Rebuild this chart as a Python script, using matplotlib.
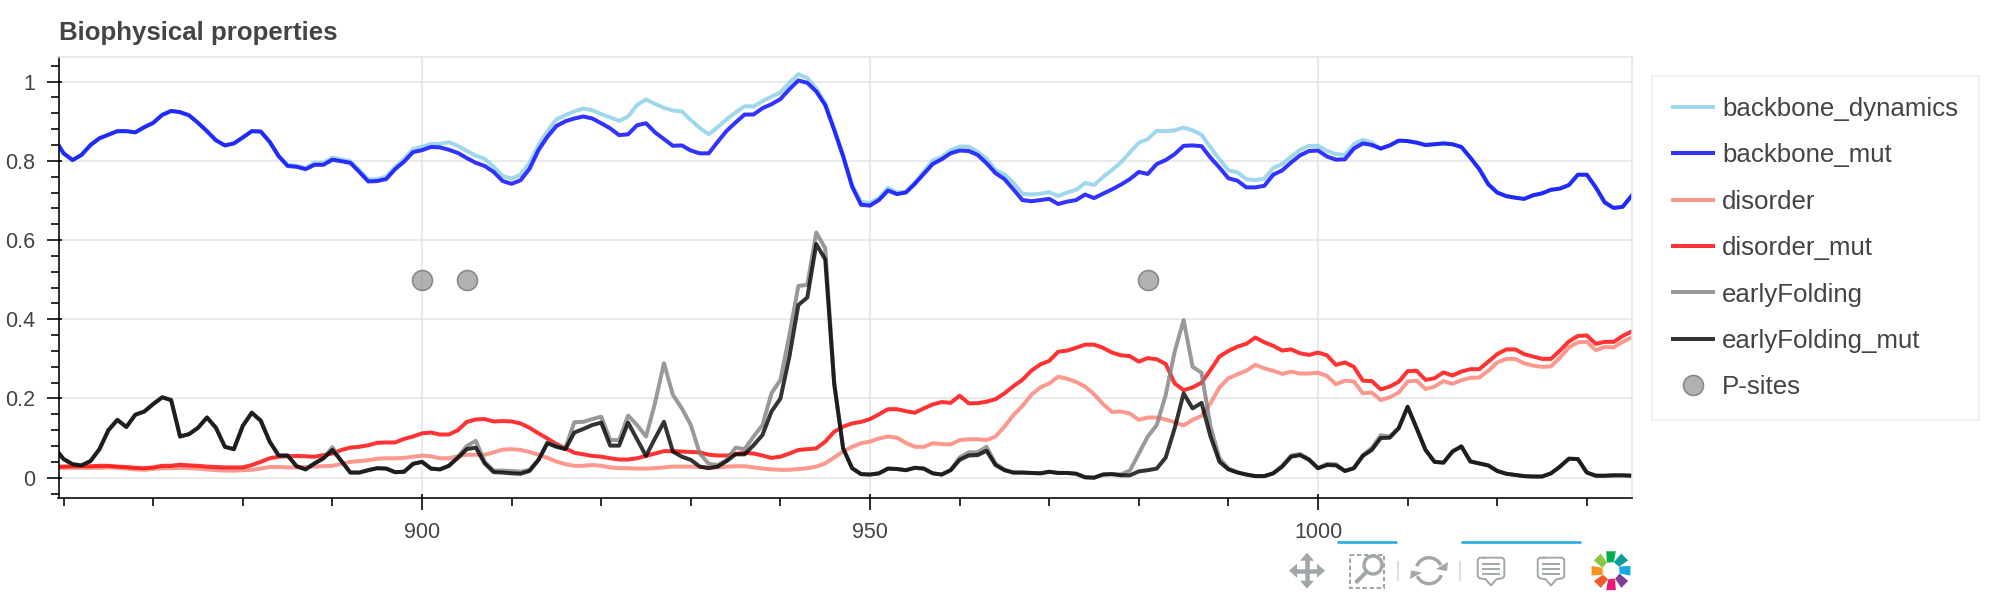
import matplotlib
matplotlib.use("Agg")
import matplotlib.pyplot as plt
from matplotlib.patches import Rectangle, Circle
import numpy as np

plt.rcParams['font.family'] = ['Liberation Sans', 'DejaVu Sans']

# Sample data, one value per residue
residues = np.arange(859, 1036)

backbone_mut = [
    .855, .819, .802, .815, .84, .857, .866, .875, .875, .872,
    .885, .896, .916, .926, .923, .915, .896, .875, .852, .839,
    .844, .859, .875, .874, .848, .812, .787, .785, .779, .79,
    .79, .803, .799, .795, .772, .748, .749, .754, .779, .798,
    .822, .827, .835, .834, .828, .82, .807, .795, .787, .772,
    .749, .742, .751, .78, .827, .861, .888, .9, .907, .912,
    .907, .895, .882, .865, .867, .89, .895, .872, .855, .838,
    .839, .826, .819, .819, .848, .876, .897, .917, .917, .933,
    .943, .956, .981, 1.003, .997, .975, .941, .878, .811, .735,
    .689, .687, .701, .725, .716, .72, .742, .767, .792, .804,
    .819, .826, .825, .815, .794, .769, .754, .728, .701, .698,
    .701, .704, .691, .697, .701, .715, .706, .717, .728, .74,
    .754, .772, .767, .792, .802, .817, .838, .839, .837, .808,
    .783, .756, .75, .733, .733, .737, .765, .776, .796, .814,
    .825, .826, .811, .803, .804, .831, .844, .84, .831, .839,
    .851, .85, .846, .84, .842, .844, .842, .835, .808, .779,
    .741, .72, .711, .707, .704, .713, .718, .727, .73, .739,
    .765, .765, .733, .695, .681, .684, .712]

backbone_dynamics = [
    .855, .819, .802, .815, .84, .857, .866, .875, .875, .872,
    .885, .896, .916, .926, .923, .915, .896, .875, .852, .839,
    .844, .859, .875, .874, .848, .812,
    .79, .788, .782, .795, .795, .808, .804, .799, .777, .753,
    .754, .76, .785, .805, .83, .835, .843, .843, .847, .838,
    .825, .813, .805, .785, .762, .755, .765, .795, .84, .875,
    .905, .915, .925, .932, .928, .918, .91, .901, .912, .941,
    .955, .944, .934, .927, .925, .903, .883, .867, .885, .905,
    .922, .938, .937, .951, .962, .973, .997, 1.019, 1.009, .983,
    .945, .882, .815, .739, .696, .694, .706, .732, .72, .722,
    .745, .773, .801, .81, .827, .836, .836, .823, .806, .777,
    .766, .745, .717, .715, .717, .721, .711, .72, .727, .744,
    .739, .759, .777, .796, .821, .846, .855, .876, .875, .877,
    .884, .877, .866, .834, .804, .776, .771, .754, .751, .755,
    .782, .792, .811, .828, .838, .838, .825, .817, .815, .842,
    .853, .846, .831, .839,
    .851, .85, .846, .84, .842, .844, .842, .835, .808, .779,
    .741, .72, .711, .707, .704, .713, .718, .727, .73, .739,
    .765, .765, .733, .695, .681, .684, .712]

disorder = [
    .025, .025, .025, .025, .025, .025, .026, .025, .023, .021,
    .02, .022, .024, .024, .025, .024, .023, .021, .019, .018,
    .018, .019, .02, .023, .027, .027, .026, .026, .027, .028,
    .029, .03, .035, .04, .042, .044, .048, .049, .049, .05,
    .053, .056, .054, .049, .049, .054, .058, .058, .058, .064,
    .071, .072, .07, .065, .058, .05, .041, .034, .03, .03,
    .032, .03, .026, .024, .024, .023, .023, .024, .026, .028,
    .028, .028, .027, .026, .026, .028, .029, .029, .026, .023,
    .021, .02, .02, .022, .024, .028, .036, .051, .066, .078,
    .087, .091, .099, .104, .101, .088, .078, .078, .087, .085,
    .084, .095, .097, .097, .095, .104, .129, .158, .181, .209,
    .228, .238, .255, .25, .242, .23, .211, .186, .166, .167,
    .162, .146, .152, .152, .147, .14, .132, .146, .156, .188,
    .228, .251, .261, .27, .285, .276, .27, .262, .268, .263,
    .263, .265, .257, .236, .245, .243, .213, .215, .196, .203,
    .215, .243, .245, .224, .23, .244, .237, .246, .252, .253,
    .27, .291, .3, .3, .289, .283, .28, .281, .303, .329,
    .342, .343, .322, .33, .329, .343, .354]

disorder_mut = [
    .028, .028, .029, .029, .029, .03, .03, .028, .027, .025,
    .024, .026, .03, .03, .033, .031, .03, .028, .027, .026,
    .026, .026, .032, .04, .049, .053, .054, .055, .054, .053,
    .057, .061, .07, .076, .078, .082, .088, .089, .089, .098,
    .104, .112, .114, .109, .109, .12, .141, .147, .148, .142,
    .143, .142, .137, .126, .112, .099, .085, .074, .063, .059,
    .055, .053, .049, .046, .046, .049, .055, .061, .067, .067,
    .066, .065, .064, .058, .056, .056, .06, .063, .061, .056,
    .05, .053, .061, .07, .072, .074, .091, .116, .129, .137,
    .141, .148, .16, .173, .173, .168, .164, .175, .185, .191,
    .189, .207, .188, .188, .192, .198, .213, .231, .247, .27,
    .286, .295, .318, .321, .328, .336, .336, .328, .316, .309,
    .307, .293, .302, .299, .287, .238, .221, .228, .24, .272,
    .306, .32, .331, .338, .354, .342, .333, .321, .324, .314,
    .31, .316, .309, .285, .291, .28, .245, .244, .223, .23,
    .242, .269, .27, .247, .251, .266, .258, .268, .274, .274,
    .293, .312, .324, .324, .312, .306, .3, .3, .321, .344,
    .358, .359, .338, .343, .343, .358, .369]

early_folding = [
    .075, .047, .034, .031, .042, .072, .12, .146, .128, .159,
    .167, .186, .203, .196, .104, .11, .126, .152, .126, .078,
    .072, .131, .164, .144, .091, .056, .056, .029, .021, .036,
    .049, .077, .042, .013, .013, .019, .024, .023, .014, .015,
    .035, .04, .023, .021, .03, .053, .08, .093, .04, .018,
    .018, .017, .015, .02, .045, .09, .08, .075, .14, .141,
    .148, .154, .095, .095, .157, .133, .104, .188, .289, .209,
    .175, .133, .061, .035, .032, .045, .076, .072, .104, .133,
    .213, .247, .36, .484, .487, .619, .579, .238, .074, .024,
    .009, .008, .011, .023, .022, .019, .025, .023, .011, .008,
    .019, .051, .064, .064, .078, .036, .02, .013, .013, .012,
    .011, .015, .012, .012, .01, .001, 0., .008, .009, .008,
    .018, .061, .104, .133, .209, .318, .398, .28, .265, .129,
    .049, .023, .014, .008, .004, .004, .011, .03, .056, .06,
    .047, .024, .035, .034, .017, .024, .057, .075, .107, .104,
    .125, .179, .125, .07, .04, .038, .066, .079, .041, .036,
    .031, .017, .01, .007, .004, .003, .003, .011, .028, .048,
    .047, .013, .005, .005, .006, .006, .005]

early_folding_mut = [
    .075, .047, .034, .031, .042, .072, .12, .146, .128, .159,
    .167, .186, .203, .196, .104, .11, .126, .152, .126, .078,
    .072, .131, .164, .144, .091, .056, .056, .029, .021, .036,
    .049, .07, .042, .013, .013, .019, .024, .023, .014, .015,
    .035, .04, .023, .021, .03, .05, .072, .076, .036, .014,
    .013, .011, .01, .017, .045, .087, .078, .072, .114, .123,
    .133, .139, .081, .081, .139, .097, .055, .099, .141, .066,
    .053, .045, .028, .024, .028, .042, .059, .059, .082, .108,
    .167, .2, .306, .436, .455, .59, .551, .238, .074, .024,
    .009, .008, .011, .023, .022, .019, .025, .023, .011, .008,
    .019, .045, .056, .057, .068, .032, .019, .013, .013, .012,
    .011, .015, .012, .012, .01, .001, 0., .008, .009, .006,
    .006, .016, .019, .023, .051, .125, .213, .175, .189, .104,
    .04, .021, .013, .008, .004, .004, .011, .028, .053, .057,
    .045, .024, .032, .031, .017, .024, .055, .07, .1, .101,
    .125, .179, .125, .07, .04, .038, .066, .079, .041, .036,
    .031, .017, .01, .007, .004, .003, .003, .011, .028, .048,
    .047, .013, .005, .005, .006, .006, .005]

psite_x = [900, 905, 981]
psite_y = [0.5, 0.5, 0.5]

x_major = [900, 950, 1000]
x_minor = np.arange(860, 1040, 10)
y_major = [0, 0.2, 0.4, 0.6, 0.8, 1]
y_labels = ['0', '0.2', '0.4', '0.6', '0.8', '1']
y_minor = np.arange(-0.04, 1.05, 0.04)

TEXT = '#444444'
GRID = '#e5e5e5'
PX = 72 / 100  # one pixel in points

fig = plt.figure(figsize=(20, 6), dpi=100)
ax = fig.add_axes([58.5 / 2000, 1 - 497.7 / 600, (1632 - 58.5) / 2000, (497.7 - 56.7) / 600])

# Plot lines
lw = 4 * PX
ax.plot(residues, backbone_dynamics, color='skyblue', alpha=0.8, lw=lw, label='backbone_dynamics')
ax.plot(residues, backbone_mut, color='blue', alpha=0.8, lw=lw, label='backbone_mut')
ax.plot(residues, disorder, color='salmon', alpha=0.8, lw=lw, label='disorder')
ax.plot(residues, disorder_mut, color='red', alpha=0.8, lw=lw, label='disorder_mut')
ax.plot(residues, early_folding, color='gray', alpha=0.8, lw=lw, label='earlyFolding')
ax.plot(residues, early_folding_mut, color='black', alpha=0.8, lw=lw, label='earlyFolding_mut')
ax.plot(psite_x, psite_y, ls='none', marker='o', ms=20 * PX, mfc=(0.5, 0.5, 0.5, 0.6),
        mec=(0.5, 0.5, 0.5, 0.9), mew=1.6 * PX, label='P-sites')

ax.set_xlim(859.43, 1035.04)
ax.set_ylim(-0.0505, 1.063)

# Axes and grid
ax.grid(True, which='major', color=GRID, lw=1.6 * PX)
ax.set_axisbelow(True)
for side in ['top', 'right']:
    ax.spines[side].set_color(GRID)
    ax.spines[side].set_linewidth(1.6 * PX)
for side in ['left', 'bottom']:
    ax.spines[side].set_color('black')
    ax.spines[side].set_linewidth(1.6 * PX)

ax.set_xticks(x_major)
ax.set_xticks([v for v in x_minor if v not in x_major], minor=True)
ax.set_yticks(y_major, y_labels)
ax.set_yticks([v for v in y_minor if round(v / 0.2, 3) % 1 != 0], minor=True)
ax.tick_params(which='major', length=12 * PX, width=1.6 * PX, color='black',
               labelsize=15.5, labelcolor=TEXT)
ax.tick_params(axis='x', which='major', pad=9)
ax.tick_params(axis='y', which='major', pad=8)
ax.tick_params(which='minor', length=8 * PX, width=1.6 * PX, color='black')

# bokeh major ticks also reach a little into the frame
ax.plot(x_major, [ax.get_ylim()[0]] * 3, ls='none', marker=2, ms=4.5 * PX, mew=1.6 * PX,
        color='black', clip_on=False)
ax.plot([ax.get_xlim()[0]] * 6, y_major, ls='none', marker=1, ms=4 * PX, mew=1.6 * PX,
        color='black', clip_on=False)

fig.text(59 / 2000, 1 - 40 / 600, 'Biophysical properties', fontsize=18.6, fontweight='bold',
         color=TEXT, ha='left', va='baseline')

# Legend
handles, labels = ax.get_legend_handles_labels()
handles = [h for h in handles if h.get_label() in labels]
leg = fig.legend(handles, labels, loc='upper left', bbox_to_anchor=(1652 / 2000, 1 - 75.7 / 600),
                 bbox_transform=fig.transFigure, borderaxespad=0, fontsize=18.6,
                 fancybox=False, framealpha=1, edgecolor='#eeeeee', labelcolor=TEXT,
                 handlelength=1.545, handletextpad=0.36, labelspacing=0.87, borderpad=0.81)
leg.get_frame().set_linewidth(1.6 * PX)

# Toolbar, drawn in pixel coordinates
tb = fig.add_axes([0, 0, 1, 1])
tb.set_xlim(0, 2000)
tb.set_ylim(600, 0)
tb.axis('off')
ICON = '#a1a6a9'
BLUE = '#26aae1'

tb.plot([1337, 1397], [542, 542], color=BLUE, lw=2.6 * PX, solid_capstyle='butt')
tb.plot([1461, 1581], [542, 542], color=BLUE, lw=2.6 * PX, solid_capstyle='butt')

# pan
cx, cy = 1307, 570.7
tb.plot([cx - 14, cx + 14], [cy, cy], color=ICON, lw=4.5 * PX, solid_capstyle='butt')
tb.plot([cx, cx], [cy - 14, cy + 14], color=ICON, lw=4.5 * PX, solid_capstyle='butt')
for dx, dy in [(1, 0), (-1, 0), (0, 1), (0, -1)]:
    tip = (cx + 18 * dx, cy + 18 * dy)
    base = (cx + 10 * dx, cy + 10 * dy)
    tb.fill([tip[0], base[0] + 7 * dy, base[0] - 7 * dy], [tip[1], base[1] + 7 * dx, base[1] - 7 * dx],
            color=ICON, lw=0)

# box zoom
tb.add_patch(Rectangle((1349.5, 554.5), 34.5, 33.5, fill=False, ec=ICON, lw=2 * PX, ls=(0, (2.2, 1.3))))
tb.add_patch(Circle((1373, 565), 9, fill=True, fc='white', ec=ICON, lw=3.4 * PX))
tb.plot([1366.7, 1356.7], [571.7, 581.7], color=ICON, lw=4 * PX, solid_capstyle='round')

# separators
for sx in [1397.7, 1460]:
    tb.plot([sx, sx], [561.5, 580], color='#d5d7d8', lw=1.6 * PX)

# reset
rc = (1429, 570.7)
for a0, a1 in [(200, 335), (20, 155)]:
    t = np.radians(np.linspace(a0, a1, 30))
    tb.plot(rc[0] + 13 * np.cos(t), rc[1] + 13 * np.sin(t), color=ICON, lw=3.4 * PX, solid_capstyle='butt')
tb.fill([1436, 1447, 1448], [569, 571, 562], color=ICON, lw=0)
tb.fill([1422, 1411, 1410], [572.5, 570.5, 579], color=ICON, lw=0)

# hover tools
for hx in [1477.7, 1537.7]:
    tb.plot([hx + 6, hx + 2, hx, hx, hx + 2, hx + 8, hx + 13.3, hx + 18.6, hx + 24.6, hx + 26.6, hx + 26.6, hx + 24.6, hx + 6],
            [557.7, 557.7, 559.7, 576.3, 578.3, 579.3, 585.5, 579.3, 578.3, 576.3, 559.7, 557.7, 557.7],
            color=ICON, lw=1.9 * PX)
    for ly in [563.5, 568.5, 573.5]:
        tb.plot([hx + 4.7, hx + 22], [ly, ly], color=ICON, lw=1.9 * PX, solid_capstyle='butt')

# logo petals, going clockwise from the right
logo_colors = ['#18a9df', '#7f3f98', '#ec1b7a', '#f15a29', '#f7941e', '#8dc63f', '#00b050', '#0d9ea0']
for i, c in enumerate(logo_colors):
    a = i * 45
    radii = np.array([9, 20, 20, 9])
    angles = np.radians(np.array([a - 27, a - 14, a + 14, a + 18]))
    tb.fill(1611 + radii * np.cos(angles), 570.7 + radii * np.sin(angles), color=c, lw=0)

plt.savefig('out.png', dpi=100)
